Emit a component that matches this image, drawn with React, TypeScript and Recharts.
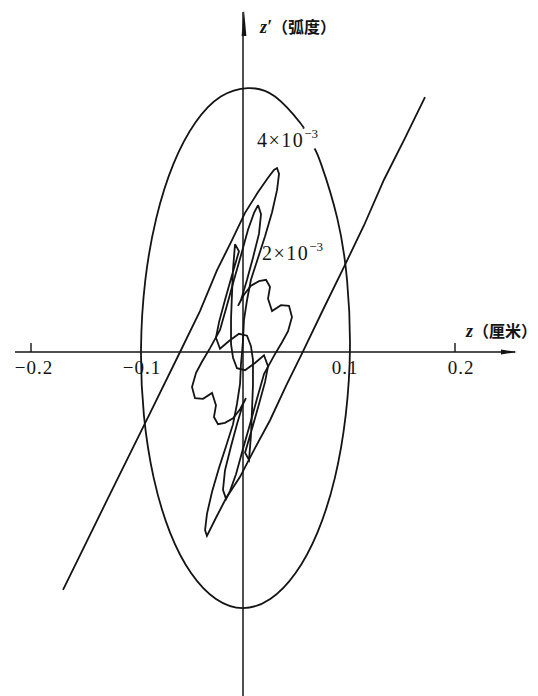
import React from 'react';
import { ScatterChart, Scatter, XAxis, YAxis, ReferenceLine, ReferenceDot } from 'recharts';

// phase plane: z in cm, z' in 10^-3 rad (no ticks on the z' axis)
const X_DOMAIN: [number, number] = [-0.22925, 0.2783];
const Y_DOMAIN: [number, number] = [-52.92, 54.15];

// acceptance ellipse, read clockwise from the gap under the "4x10^-3" label
const ellipseZ = [0.0675, 0.0737, 0.0889, 0.0982, 0.1009, 0.0969, 0.0866, 0.0704, 0.0496, 0.0257, 0.0, -0.0255, -0.049, -0.069, -0.0842, -0.0935, -0.0962, -0.0922, -0.0818, -0.0657, -0.0449, -0.0209, 0.0047, 0.0302, 0.0537, 0.0566];
const ellipseZp = [31.3, 28.9, 20.6, 11.0, 0.6, -9.7, -19.4, -27.7, -34.0, -38.0, -39.4, -38.0, -34.0, -27.7, -19.4, -9.7, 0.6, 11.0, 20.6, 28.9, 35.3, 39.3, 40.6, 39.3, 35.3, 34.5];

// 4x10^-3 curve: lower-left arm, top tip, band along the z' axis, bottom tip, upper-right arm
const outerZ = [-0.1698, -0.1292, -0.0877, -0.0594, -0.0406, -0.0245, -0.0104, 0.0019, 0.0142, 0.0236, 0.0292, 0.0321, 0.034, 0.0321, 0.0274, 0.0208, 0.0142, 0.0075, 0.0038, 0.0009, 0, -0.0009, -0.0019, -0.0028, -0.0057, -0.0094, -0.016, -0.0226, -0.0292, -0.034, -0.0358, -0.034, -0.0255, -0.016, -0.0028, 0.0113, 0.0255, 0.0406, 0.0557, 0.0755, 0.0953, 0.1142, 0.133, 0.1528, 0.1717];
const outerZp = [-36.6, -23.1, -9.4, 0, 6.3, 12.6, 17.2, 21.4, 24.6, 26.8, 28.0, 28.3, 27.4, 24.9, 21.5, 17.8, 14.5, 11.1, 8.0, 4.9, 1.8, 0, -1.8, -4.9, -8.0, -11.1, -14.5, -17.8, -21.5, -24.9, -27.4, -28.3, -25.5, -22.5, -19.2, -14.8, -10.5, -5.2, -0.2, 6.5, 13.1, 19.5, 26.5, 32.9, 39.2];

// 2x10^-3 curve: loop with the two zigzags
const loopZ = [0.0142, 0.017, 0.0151, 0.0094, 0.0038, -0.0019, -0.0047, 0.0009, 0.0075, 0.0151, 0.0217, 0.0255, 0.0236, 0.0274, 0.0358, 0.0434, 0.0462, 0.0425, 0.0368, 0.0292, 0.0198, 0.0132, 0.0066, 0, -0.0066, -0.0123, -0.016,
  -0.0189, -0.017, -0.0113, -0.0057, 0, 0.0028, -0.0028, -0.0094, -0.017, -0.0236, -0.0274, -0.0255, -0.0292, -0.0377, -0.0453, -0.0481, -0.0443, -0.0387, -0.0311, -0.0217, -0.0151, -0.0085, -0.0019, 0.0047, 0.0104, 0.0142];
const loopZp = [22.6, 21.2, 18.2, 14.5, 11.1, 8.0, 7.1, 8.8, 10.2, 10.9, 11.1, 10.0, 8.2, 6.3, 7.2, 7.1, 5.4, 3.2, 1.5, -0.6, -3.4, -7.2, -11.1, -14.9, -18.8, -21.4, -22.6,
  -21.2, -18.2, -14.5, -11.1, -8.0, -7.1, -8.8, -10.2, -10.9, -11.1, -10.0, -8.2, -6.3, -7.2, -7.1, -5.4, -3.2, -1.5, 0.6, 3.4, 7.2, 11.1, 14.9, 18.8, 21.4, 22.6];

// 2x10^-3 curve: innermost filament through the origin
const coreZ = [-0.0075, -0.0038, -0.0104, -0.017, -0.0226, -0.0255, -0.0217, -0.0132, -0.0038, 0.0038, 0.0075, 0.0094, 0.0094, 0.0085, 0.0075, 0.0057,
  0.0019, 0.0085, 0.0151, 0.0208, 0.0236, 0.0198, 0.0113, 0.0019, -0.0057, -0.0094, -0.0113, -0.0113, -0.0104, -0.0094, -0.0075];
const coreZp = [16.6, 15.5, 11.8, 8.0, 4.6, 2.2, 0.5, 1.7, 2.8, 2.5, 0.9, -1.2, -5.1, -8.9, -12.8, -16.6,
  -15.5, -11.8, -8.0, -4.6, -2.2, -0.5, -1.7, -2.8, -2.5, -0.9, 1.2, 5.1, 8.9, 12.8, 16.6];

const tickValues = [-0.2, -0.1, 0.1, 0.2];
const tickLabels = ['−0.2', '−0.1', '0.1', '0.2'];
const tickMarks = [-0.2, 0.2];

const toPoints = (zs: number[], zps: number[]) => zs.map((z, i) => ({ z, zp: zps[i] }));

const INK = '#141414';
const SERIF = '"Liberation Serif", "DejaVu Serif", serif';
const CJK = '"Noto Sans CJK SC", sans-serif';
const labelDx = [3, 5, -4, 6];

const noSymbol = () => <g />;

const curves = [
  { id: 'ellipse', data: toPoints(ellipseZ, ellipseZp), joint: 'natural' },
  { id: 'outer', data: toPoints(outerZ, outerZp), joint: 'linear' },
  { id: 'loop', data: toPoints(loopZ, loopZp), joint: 'linear' },
  { id: 'core', data: toPoints(coreZ, coreZp), joint: 'linear' },
];

export default function App() {
  return (
    <div style={{ position: 'absolute', left: 0, top: 0, background: '#fff' }}>
      <ScatterChart width={538} height={696} margin={{ top: 0, right: 0, bottom: 0, left: 0 }}>
        <XAxis type="number" dataKey="z" domain={X_DOMAIN} hide allowDataOverflow />
        <YAxis type="number" dataKey="zp" domain={Y_DOMAIN} hide allowDataOverflow />

        {/* axes through the origin */}
        <ReferenceLine segment={[{ x: -0.2151, y: 0 }, { x: 0.2566, y: 0 }]} stroke={INK} strokeWidth={1.7} ifOverflow="visible" />
        <ReferenceLine segment={[{ x: 0, y: Y_DOMAIN[0] }, { x: 0, y: 52.3 }]} stroke={INK} strokeWidth={1.5} ifOverflow="visible" />
        {tickMarks.map((v) => (
          <ReferenceLine key={v} segment={[{ x: v, y: 0 }, { x: v, y: 1.4 }]} stroke={INK} strokeWidth={1.4} ifOverflow="visible" />
        ))}
        <ReferenceDot x={0.2566} y={0} ifOverflow="visible"
          shape={(p: any) => <path d={`M${p.cx + 2},${p.cy} l-16,-2.5 l0,5 z`} fill={INK} />} />
        <ReferenceDot x={0} y={52.3} ifOverflow="visible"
          shape={(p: any) => <path d={`M${p.cx + 1},${p.cy - 2} l-2.4,26 l4.8,0 z`} fill={INK} />} />

        {curves.map((c) => (
          <Scatter key={c.id} name={c.id} data={c.data} fill={INK} shape={noSymbol}
            line={{ stroke: INK, strokeWidth: 1.8 }} lineJointType={c.joint as any} isAnimationActive={false} />
        ))}

        {tickValues.map((v, i) => (
          <ReferenceDot key={v} x={v} y={0} ifOverflow="visible"
            shape={(p: any) => (
              <text x={p.cx + labelDx[i]} y={p.cy + 22} textAnchor="middle" fontFamily={SERIF} fontSize={19} letterSpacing={1} fill={INK}>
                {tickLabels[i]}
              </text>
            )} />
        ))}

        <ReferenceDot x={0.2104} y={2.3} ifOverflow="visible"
          shape={(p: any) => (
            <text x={p.cx} y={p.cy} fill={INK}>
              <tspan fontFamily={SERIF} fontStyle="italic" fontWeight="bold" fontSize={18}>z</tspan>
              <tspan fontFamily={CJK} fontSize={16} fontWeight="bold">（厘米）</tspan>
            </text>
          )} />
        <ReferenceDot x={0.016} y={49.1} ifOverflow="visible"
          shape={(p: any) => (
            <text x={p.cx} y={p.cy} fill={INK}>
              <tspan fontFamily={SERIF} fontStyle="italic" fontWeight="bold" fontSize={18}>z′</tspan>
              <tspan fontFamily={CJK} fontSize={16} fontWeight="bold">（弧度）</tspan>
            </text>
          )} />

        <ReferenceDot x={0.0132} y={31.5} ifOverflow="visible"
          shape={(p: any) => (
            <text x={p.cx} y={p.cy} fontFamily={SERIF} fontSize={20} letterSpacing={1.5} fill={INK}>
              4×10<tspan dy={-9} fontSize={13} letterSpacing={0}>−3</tspan>
            </text>
          )} />
        <ReferenceDot x={0.0179} y={14.2} ifOverflow="visible"
          shape={(p: any) => (
            <text x={p.cx} y={p.cy} fontFamily={SERIF} fontSize={20} letterSpacing={1.5} fill={INK}>
              2×10<tspan dy={-9} fontSize={13} letterSpacing={0}>−3</tspan>
            </text>
          )} />
      </ScatterChart>
    </div>
  );
}
